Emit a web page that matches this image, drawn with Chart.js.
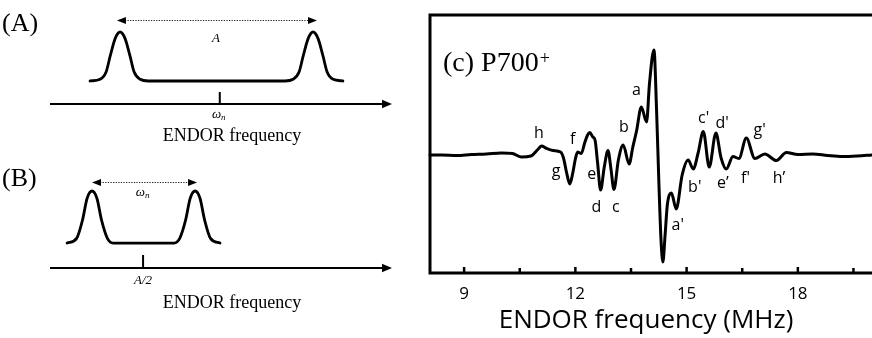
<!DOCTYPE html>
<html>
<head>
<meta charset="utf-8">
<title>ENDOR spectra</title>
<script src="https://cdn.jsdelivr.net/npm/chart.js@4.4.1/dist/chart.umd.min.js"></script>
<style>
  html, body { margin:0; padding:0; background:#ffffff; width:872px; height:338px; overflow:hidden; }
  #stage { position:relative; width:872px; height:338px; }
  #stage canvas { position:absolute; display:block; }
</style>
</head>
<body>
<div id="stage">
  <canvas id="panelA" width="400" height="165" style="left:0px;top:0px"></canvas>
  <canvas id="panelB" width="400" height="173" style="left:0px;top:165px"></canvas>
  <canvas id="panelC" width="472" height="338" style="left:400px;top:0px"></canvas>
</div>
<script>
// ---------- Panel (c): P700+ ENDOR spectrum ----------
const freqMHz = [8.08, 8.4, 8.8, 9.2, 9.6, 10.0, 10.3, 10.55, 10.8, 11.0, 11.09, 11.2, 11.4, 11.6, 11.68,
  11.76, 11.85, 11.93, 12.0, 12.06, 12.16, 12.25, 12.33, 12.39, 12.47, 12.53, 12.6, 12.68, 12.78, 12.88,
  12.96, 13.04, 13.16, 13.29, 13.45, 13.55, 13.65, 13.78, 13.92, 14.0, 14.12, 14.19, 14.25, 14.31, 14.36,
  14.42, 14.48, 14.59, 14.72, 14.88, 15.04, 15.18, 15.31, 15.45, 15.61, 15.79, 15.93, 16.07, 16.25, 16.41,
  16.61, 16.84, 17.11, 17.42, 17.69, 18.0, 18.4, 18.8, 19.2, 19.6, 20.0];
const endorSignal = [0, 0, -0.5, 0.5, 1, 2, 1.5, -2, -1, 6, 9, 7, 4.5, 3, -3,
  -17, -29, -18, -4, 3, 1.5, 12, 20, 22.5, 18, 15, -8, -35, -12, 4.5,
  -14, -34.5, -5, 10, -9, 8, 24, 48, 33, 72, 105, 45, -25, -85, -107,
  -80, -50, -38, -54, -20, -5, -14, 2, 23.5, -12, 22, -3, -14, -1.5, -3.5,
  17, -3.5, 1, -5.5, 2.5, 0.5, 1, -0.5, -1.5, -1, 0];
const majorTickValues = [9, 12, 15, 18];
const peakNames = ["h", "g", "f", "e", "d", "c", "b", "a", "a'", "b'", "c'", "d'", "e\u2019", "f'", "g'", "h\u2019"];
const peakNameFreq = [11.02, 11.48, 11.93, 12.44, 12.57, 13.09, 13.31, 13.65, 14.76, 15.22, 15.46, 15.96, 15.98, 16.59, 16.97, 17.49];
const peakNameSignal = [21.7, -16.7, 16, -19.5, -52, -52, 27.5, 64.3, -70, -32.5, 37, 31.3, -28.8, -23.3, 25, -23.3];
const panelCTitle = "(c) P700";
const axisTitleC = "ENDOR frequency (MHz)";

// ---------- Schematic (A) ----------
const schemAFreq = [4.64, 5.05, 5.30, 5.46, 5.67, 5.87, 6.07, 6.28, 6.44, 6.69, 7.02,
  12.62, 12.95, 13.20, 13.36, 13.57, 13.77, 13.97, 14.18, 14.34, 14.59, 14.99];
const schemAAmp = [0, 0.035, 0.19, 0.5, 0.87, 1, 0.87, 0.5, 0.19, 0.035, 0,
  0, 0.035, 0.19, 0.5, 0.87, 1, 0.87, 0.5, 0.19, 0.035, 0];
// ---------- Schematic (B) ----------
const schemBFreq = [3.70, 4.09, 4.33, 4.52, 4.72, 4.92, 5.11, 5.35, 5.58,
  8.08, 8.31, 8.55, 8.74, 8.94, 9.14, 9.33, 9.57, 9.96];
const schemBAmp = [0, 0.09, 0.44, 0.86, 1, 0.86, 0.44, 0.09, 0,
  0, 0.09, 0.44, 0.86, 1, 0.86, 0.44, 0.09, 0];
const schemAxisLabel = "ENDOR frequency";

const SERIF = '"Liberation Serif", "Times New Roman", serif';
const SANS = '"Open Sans", "DejaVu Sans", sans-serif';

function arrowHead(ctx, x, y, dir, len, half) {
  ctx.beginPath();
  ctx.moveTo(x, y);
  ctx.lineTo(x - dir * len, y - half);
  ctx.lineTo(x - dir * len, y + half);
  ctx.closePath();
  ctx.fill();
}

// draws italic main glyph with italic subscript, centred at cx, baseline by
function drawSubLabel(ctx, main, sub, cx, by, size) {
  ctx.font = 'italic ' + size + 'px ' + SERIF;
  const w1 = ctx.measureText(main).width;
  ctx.font = 'italic ' + Math.round(size * 0.72) + 'px ' + SERIF;
  const w2 = sub ? ctx.measureText(sub).width : 0;
  const x0 = cx - (w1 + w2) / 2;
  ctx.textAlign = 'left';
  ctx.textBaseline = 'alphabetic';
  ctx.font = 'italic ' + size + 'px ' + SERIF;
  ctx.fillText(main, x0, by);
  if (sub) {
    ctx.font = 'italic ' + Math.round(size * 0.72) + 'px ' + SERIF;
    ctx.fillText(sub, x0 + w1, by + 2);
  }
}

const schematicPlugin = {
  id: 'schematic',
  afterDatasetsDraw(chart, args, o) {
    const { ctx, chartArea: ca, scales: { x, y } } = chart;
    ctx.save();
    ctx.fillStyle = '#000';
    ctx.strokeStyle = '#000';
    // frequency axis with arrow
    ctx.lineWidth = 2;
    ctx.beginPath();
    ctx.moveTo(ca.left, ca.bottom);
    ctx.lineTo(ca.right - 6, ca.bottom);
    ctx.stroke();
    arrowHead(ctx, ca.right, ca.bottom, 1, 10, 4.2);
    // centre tick
    const tx = x.getPixelForValue(o.tickAt);
    ctx.lineWidth = 2;
    ctx.beginPath();
    ctx.moveTo(tx, ca.bottom);
    ctx.lineTo(tx, ca.bottom - o.tickLen);
    ctx.stroke();
    // dotted double arrow
    const x1 = x.getPixelForValue(o.spanFrom), x2 = x.getPixelForValue(o.spanTo);
    const ay = Math.round(y.getPixelForValue(o.spanLevel)) + 0.5;
    ctx.strokeStyle = '#222';
    ctx.lineWidth = 1;
    ctx.setLineDash([1.3, 1.3]);
    ctx.beginPath();
    ctx.moveTo(x1 + 8, ay);
    ctx.lineTo(x2 - 8, ay);
    ctx.stroke();
    ctx.setLineDash([]);
    arrowHead(ctx, x1, ay, -1, 9, 3.4);
    arrowHead(ctx, x2, ay, 1, 9, 3.4);
    // labels
    drawSubLabel(ctx, o.spanMain, o.spanSub, (x1 + x2) / 2 + o.spanDx, ay + o.spanDy, o.spanSize);
    drawSubLabel(ctx, o.tickMain, o.tickSub, tx + o.tickDx, ca.bottom + o.tickDy, o.tickSize);
    ctx.textAlign = 'left';
    ctx.textBaseline = 'alphabetic';
    ctx.font = '26px ' + SERIF;
    ctx.fillText(o.panel, 2, o.panelBase);
    ctx.textAlign = 'center';
    ctx.font = '18px ' + SERIF;
    ctx.fillText(schemAxisLabel, 232, o.axisBase);
    ctx.restore();
  }
};

function makeSchematic(id, fr, amp, pad, yMin, yMax, o) {
  return new Chart(document.getElementById(id), {
    type: 'line',
    data: {
      datasets: [{
        data: fr.map((f, i) => ({ x: f, y: amp[i] })),
        borderColor: '#000', borderWidth: 2.8, pointRadius: 0, fill: false,
        cubicInterpolationMode: 'monotone', borderJoinStyle: 'round', borderCapStyle: 'round'
      }]
    },
    options: {
      responsive: false, animation: false, devicePixelRatio: 1,
      layout: { padding: pad },
      plugins: { legend: { display: false }, tooltip: { enabled: false }, schematic: o },
      scales: {
        x: { type: 'linear', display: false, min: 3, max: 17 },
        y: { display: false, min: yMin, max: yMax }
      }
    },
    plugins: [schematicPlugin]
  });
}

makeSchematic('panelA', schemAFreq, schemAAmp, { left: 50, right: 8, top: 7.5, bottom: 61 }, -0.47, 1.5, {
  tickAt: 9.95, tickLen: 12,
  spanFrom: 5.74, spanTo: 13.93, spanLevel: 1.245,
  spanMain: 'A', spanSub: '', spanDx: -1, spanDy: 21, spanSize: 13,
  tickMain: '\u03C9', tickSub: 'n', tickDx: -1, tickDy: 14, tickSize: 13,
  panel: '(A)', panelBase: 31, axisBase: 141
});
makeSchematic('panelB', schemBFreq, schemBAmp, { left: 50, right: 8, top: 5.2, bottom: 70 }, -0.48, 1.4, {
  tickAt: 6.81, tickLen: 13,
  spanFrom: 4.72, spanTo: 9.02, spanLevel: 1.173,
  spanMain: '\u03C9', spanSub: 'n', spanDx: -2, spanDy: 13, spanSize: 13,
  tickMain: 'A/2', tickSub: '', tickDx: 0, tickDy: 16, tickSize: 13,
  panel: '(B)', panelBase: 21, axisBase: 142.7
});

// ---------- Panel (c) chart ----------
const EXTEND_RIGHT = 10; // the frame and trace run past the plot area to the figure edge
const endorFramePlugin = {
  id: 'endorFrame',
  beforeDatasetsDraw(chart) {
    const { ctx, chartArea: { left, top, right, bottom }, scales: { x } } = chart;
    ctx.save();
    ctx.strokeStyle = '#000';
    ctx.lineWidth = 3;
    ctx.lineCap = 'square';
    ctx.beginPath();
    ctx.moveTo(right + EXTEND_RIGHT + 3, top);
    ctx.lineTo(left, top);
    ctx.lineTo(left, bottom);
    ctx.lineTo(right + EXTEND_RIGHT + 3, bottom);
    ctx.stroke();
    ctx.lineCap = 'butt';
    ctx.lineWidth = 2.5;
    x.ticks.forEach(t => {
      const px = x.getPixelForValue(t.value);
      const major = majorTickValues.includes(t.value);
      ctx.beginPath();
      ctx.moveTo(px, bottom);
      ctx.lineTo(px, bottom - (major ? 6 : 5));
      ctx.stroke();
    });
    ctx.restore();
  },
  afterDatasetsDraw(chart) {
    const { ctx, chartArea, scales: { x, y } } = chart;
    ctx.save();
    ctx.fillStyle = '#000';
    ctx.font = '16px ' + SANS;
    ctx.textAlign = 'center';
    ctx.textBaseline = 'middle';
    peakNames.forEach((n, i) => {
      ctx.fillText(n, x.getPixelForValue(peakNameFreq[i]), y.getPixelForValue(peakNameSignal[i]));
    });
    ctx.textAlign = 'left';
    ctx.textBaseline = 'alphabetic';
    ctx.font = '28px ' + SERIF;
    const tx = chartArea.left + 13, ty = chartArea.top + 56;
    ctx.fillText(panelCTitle, tx, ty);
    const w = ctx.measureText(panelCTitle).width;
    ctx.font = '18px ' + SERIF;
    ctx.fillText('+', tx + w + 1, ty - 7);
    ctx.restore();
  }
};

new Chart(document.getElementById('panelC'), {
  type: 'line',
  data: {
    datasets: [{
      data: freqMHz.map((f, i) => ({ x: f, y: endorSignal[i] })),
      borderColor: '#000', borderWidth: 3, pointRadius: 0, fill: false,
      cubicInterpolationMode: 'monotone', borderJoinStyle: 'round', borderCapStyle: 'round',
      clip: { left: 2, top: 2, right: EXTEND_RIGHT, bottom: 2 }
    }]
  },
  options: {
    responsive: false, animation: false, devicePixelRatio: 1,
    layout: { padding: { left: 30, top: 15, right: EXTEND_RIGHT, bottom: 0 } },
    plugins: { legend: { display: false }, tooltip: { enabled: false } },
    scales: {
      x: {
        type: 'linear', min: 8.08, max: 19.73,
        grid: { display: false, drawTicks: false },
        border: { display: false },
        ticks: {
          stepSize: 1.5, includeBounds: false, autoSkip: false, maxRotation: 0, padding: 11,
          color: '#000', font: { family: SANS, size: 17 },
          callback: v => (majorTickValues.includes(v) ? String(v) : '')
        },
        title: { display: true, text: axisTitleC, color: '#000', font: { family: SANS, size: 26 }, padding: { top: 0, bottom: 2 } },
        afterFit: s => { s.height = 65; }
      },
      y: { display: false, min: -118, max: 140 }
    }
  },
  plugins: [endorFramePlugin]
});
</script>
</body>
</html>
